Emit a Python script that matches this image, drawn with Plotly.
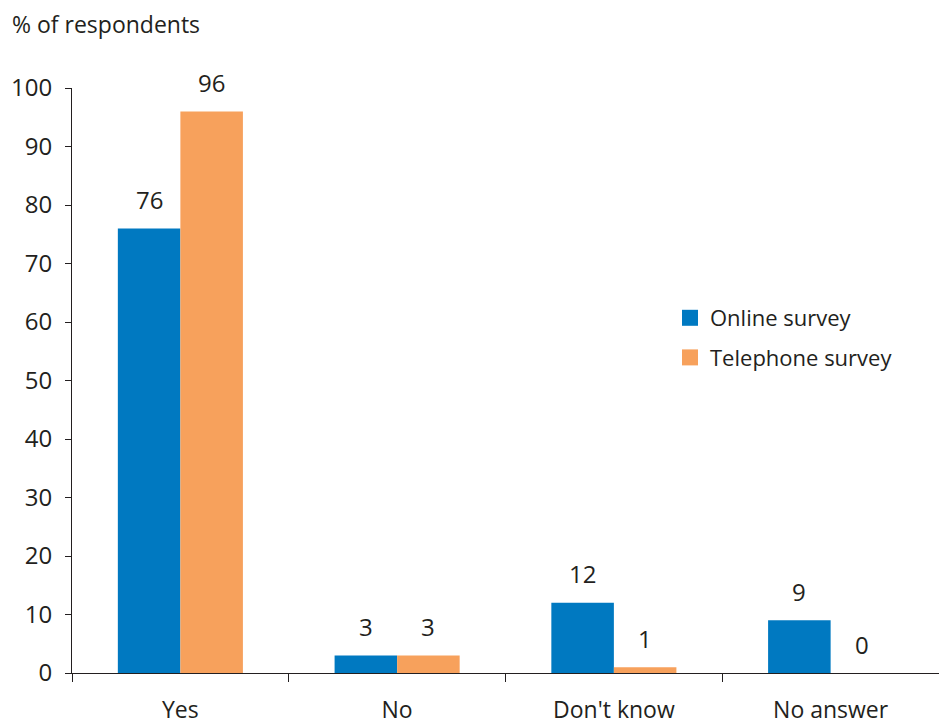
import plotly.graph_objects as go

categories = ["Yes", "No", "Don't know", "No answer"]
online = [76, 3, 12, 9]
telephone = [96, 3, 1, 0]
series_names = ["Online survey", "Telephone survey"]
colors = ["#0079C1", "#F7A15C"]
y_ticks = list(range(0, 101, 10))

FONT = "Open Sans"
TXT = "#231F20"
BARGAP = 0.423

fig = go.Figure()
for name, vals, col in zip(series_names, [online, telephone], colors):
    fig.add_trace(go.Bar(x=categories, y=vals, name=name, marker_color=col,
                         marker_line_width=0, showlegend=False))
    # legend proxy with large square symbols
    fig.add_trace(go.Scatter(x=[None], y=[None], mode="markers", name=name,
                             legendgroup=name,
                             marker=dict(symbol="square", size=20, color=col)))

# value labels above bars
half = (1 - BARGAP) / 2
for k, vals in enumerate([online, telephone]):
    off = (k - 0.5) * half
    for i, v in enumerate(vals):
        fig.add_annotation(x=i + off, y=v, xref="x", yref="y", text=str(v),
                           showarrow=False, yanchor="middle", yshift=29,
                           font=dict(family=FONT, size=24, color=TXT))

fig.update_layout(
    width=939, height=727,
    margin=dict(l=72, r=0, t=88, b=54),
    paper_bgcolor="white", plot_bgcolor="white",
    barmode="group", bargap=BARGAP, bargroupgap=0,
    font=dict(family=FONT, size=22, color=TXT),
    title=dict(text="% of respondents", x=12/939, xanchor="left",
               yref="container", y=1 - 25/727, yanchor="middle",
               font=dict(family=FONT, size=23, color=TXT)),
    legend=dict(x=(680 - 72 - 10) / 867, y=1 - (297 - 88) / 585,
                xanchor="left", yanchor="top", tracegroupgap=8,
                bgcolor="rgba(0,0,0,0)",
                font=dict(family=FONT, size=22, color=TXT)),
    xaxis=dict(showgrid=False, showline=True, linecolor="#231F20", linewidth=1,
               ticks="outside", ticklen=8, tickcolor="#231F20",
               tickson="boundaries", ticklabelstandoff=16, automargin=False,
               tickfont=dict(family=FONT, size=23, color=TXT),
               range=[-0.5, 3.5]),
    yaxis=dict(range=[0, 100], tickvals=y_ticks, showgrid=False, zeroline=False,
               showline=True, linecolor="#231F20", linewidth=1,
               ticks="outside", ticklen=6, tickcolor="#231F20",
               ticklabelstandoff=8, automargin=False,
               tickfont=dict(family=FONT, size=24, color=TXT)),
)

fig.write_html("out.html")
